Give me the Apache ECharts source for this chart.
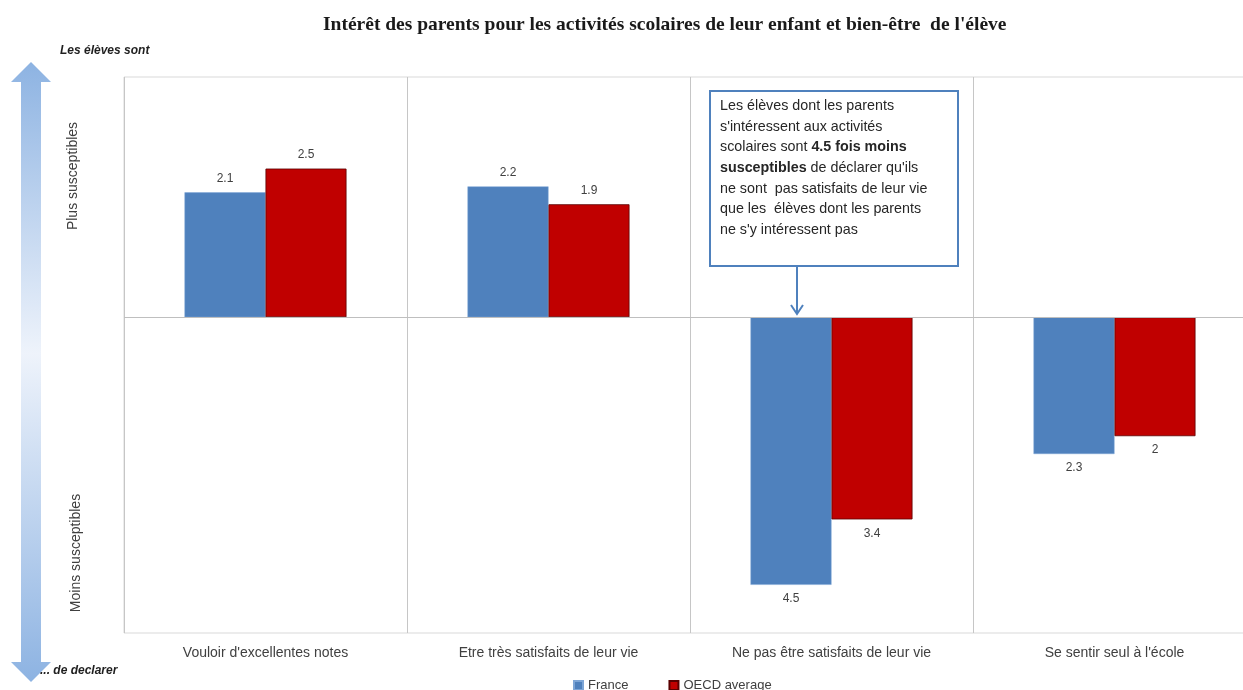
<!DOCTYPE html>
<html>
<head>
<meta charset="utf-8">
<script src="https://cdn.jsdelivr.net/npm/echarts@6/dist/echarts.min.js"></script>
<style>
html, body { margin: 0; padding: 0; background: #fff; overflow: hidden; }
/* le graphique original dépasse à droite : conteneur un peu plus large que la fenêtre */
#chartmain { width: 1262px; height: 690px; }
</style>
</head>
<body>
<div id="chartmain"></div>
<script>
// données
var categories = ["Vouloir d'excellentes notes", 'Etre très satisfaits de leur vie', 'Ne pas être satisfaits de leur vie', "Se sentir seul à l'école"];
var france = [2.1, 2.2, -4.5, -2.3];
var oecd = [2.5, 1.9, -3.4, -2];
var seriesNames = ['France', 'OECD average'];

var chart = echarts.init(document.getElementById('chartmain'));

// barres négatives : étiquette en dessous
function toItems(arr) {
    return arr.map(function (v) {
        return { value: v, label: { position: v < 0 ? 'bottom' : 'top' } };
    });
}

var txtFont = 'Liberation Sans';

var labelStyle = {
    show: true,
    color: '#404040',
    fontSize: 12,
    fontFamily: txtFont,
    distance: 8,
    formatter: function (p) { return Math.abs(p.value); }
};

option = {
    animation: false,
    title: {
        text: "Intérêt des parents pour les activités scolaires de leur enfant et bien-être  de l'élève",
        left: 318,
        top: 10,
        textStyle: {
            fontFamily: 'Liberation Serif',
            fontWeight: 'bold',
            fontSize: 19.5,
            color: '#1a1a1a'
        }
    },
    legend: {
        data: seriesNames,
        left: 568,
        top: 674,
        icon: 'rect',
        itemWidth: 9,
        itemHeight: 9,
        itemGap: 40,
        textStyle: { color: '#404040', fontSize: 13, fontFamily: txtFont }
    },
    grid: {
        show: true,
        left: 124,
        top: 77,
        width: 1132,
        height: 556,
        borderColor: '#d9d9d9',
        borderWidth: 1
    },
    xAxis: {
        type: 'category',
        data: categories,
        axisLine: { show: false, onZero: false },
        axisTick: { show: false },
        splitLine: { show: true, lineStyle: { color: '#c6c6c6', width: 1 } },
        axisLabel: { color: '#404040', fontSize: 14, fontFamily: txtFont, margin: 13 }
    },
    yAxis: {
        type: 'value',
        min: -5.31,
        max: 4.04,
        show: false
    },
    color: ['#4f81bd', '#c00000'],
    series: [
        {
            name: seriesNames[0],
            type: 'bar',
            barWidth: 81,
            barGap: '0%',
            data: toItems(france),
            label: labelStyle,
            itemStyle: { borderColor: '#7ea6d6', borderWidth: 0.5 },
            markLine: {
                silent: true,
                symbol: 'none',
                label: { show: false },
                lineStyle: { color: '#bfbfbf', type: 'solid', width: 1 },
                data: [{ yAxis: 0 }]
            }
        },
        {
            name: seriesNames[1],
            type: 'bar',
            barWidth: 81,
            barGap: '0%',
            data: toItems(oecd),
            label: labelStyle,
            itemStyle: { borderColor: '#5a0000', borderWidth: 0.8 }
        }
    ],
    graphic: [
        // flèche verticale à gauche
        {
            type: 'polygon',
            shape: {
                points: [[31, 62], [51, 82], [41, 82], [41, 662], [51, 662], [31, 682], [11, 662], [21, 662], [21, 82], [11, 82]]
            },
            style: {
                fill: new echarts.graphic.LinearGradient(0, 0, 0, 1, [
                    { offset: 0, color: '#8db3e2' },
                    { offset: 0.47, color: '#eef3fb' },
                    { offset: 1, color: '#8db3e2' }
                ])
            }
        },
        {
            type: 'text', left: 60, top: 45,
            style: { text: 'Les élèves sont', fontFamily: txtFont, fontSize: 12, fontWeight: 'bold', fontStyle: 'italic', fill: '#1f1f1f' }
        },
        {
            type: 'text', left: 40, top: 665,
            style: { text: '... de declarer', fontFamily: txtFont, fontSize: 12, fontWeight: 'bold', fontStyle: 'italic', fill: '#1f1f1f' }
        },
        {
            type: 'text', x: 73, y: 176, rotation: Math.PI / 2,
            style: { text: 'Plus susceptibles', fontFamily: txtFont, fontSize: 14, fill: '#404040', align: 'center', verticalAlign: 'middle' }
        },
        {
            type: 'text', x: 76, y: 553, rotation: Math.PI / 2,
            style: { text: 'Moins susceptibles', fontFamily: txtFont, fontSize: 14, fill: '#404040', align: 'center', verticalAlign: 'middle' }
        },
        // encadré d'annotation
        {
            type: 'rect',
            shape: { x: 710, y: 91, width: 248, height: 175 },
            style: { fill: '#fff', stroke: '#4f81bd', lineWidth: 2 }
        },
        {
            type: 'text', left: 720, top: 96,
            style: {
                text: "Les élèves dont les parents\ns'intéressent aux activités\nscolaires sont {b|4.5 fois moins}\n{b|susceptibles} de déclarer qu'ils\nne sont  pas satisfaits de leur vie\nque les  élèves dont les parents\nne s'y intéressent pas",
                fontFamily: txtFont,
                fontSize: 14.3,
                lineHeight: 20.6,
                fill: '#262626',
                rich: {
                    b: { fontFamily: txtFont, fontSize: 14.3, fontWeight: 'bold', fill: '#262626', lineHeight: 20.6 }
                }
            }
        },
        {
            type: 'line',
            shape: { x1: 797, y1: 266, x2: 797, y2: 314 },
            style: { stroke: '#4f81bd', lineWidth: 2 }
        },
        {
            type: 'polyline',
            shape: { points: [[791, 305], [797, 314], [803, 305]] },
            style: { stroke: '#4f81bd', lineWidth: 2, fill: null }
        }
    ]
};

chart.setOption(option);
</script>
</body>
</html>
